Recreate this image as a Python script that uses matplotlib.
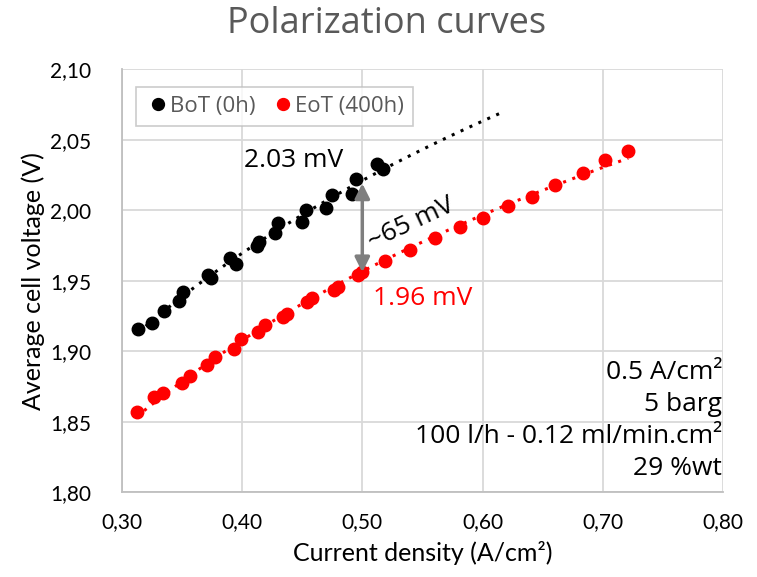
import numpy as np
import matplotlib
matplotlib.use("Agg")
import matplotlib.pyplot as plt

# BoT (0h)
bot_j = [0.3136, 0.3252, 0.3347, 0.3474, 0.3510, 0.3718, 0.3738, 0.3898, 0.3948,
         0.4121, 0.4142, 0.4273, 0.4300, 0.4495, 0.4528, 0.4697, 0.4745, 0.4916,
         0.4947, 0.5119, 0.5174]
bot_v = [1.9160, 1.9200, 1.9286, 1.9355, 1.9420, 1.9540, 1.9516, 1.9662, 1.9622,
         1.9745, 1.9775, 1.9835, 1.9906, 1.9917, 2.0000, 2.0019, 2.0111, 2.0118,
         2.0218, 2.0326, 2.0289]

# EoT (400h)
eot_j = [0.3122, 0.3269, 0.3344, 0.3497, 0.3566, 0.3710, 0.3774, 0.3932, 0.3988,
         0.4134, 0.4190, 0.4342, 0.4370, 0.4537, 0.4578, 0.4764, 0.4800, 0.4966,
         0.4994, 0.5188, 0.5396, 0.5604, 0.5812, 0.6001, 0.6214, 0.6408, 0.6602,
         0.6833, 0.7018, 0.7212]
eot_v = [1.8570, 1.8672, 1.8704, 1.8771, 1.8825, 1.8901, 1.8960, 1.9019, 1.9083,
         1.9137, 1.9184, 1.9243, 1.9267, 1.9350, 1.9374, 1.9433, 1.9456, 1.9539,
         1.9562, 1.9642, 1.9721, 1.9804, 1.9882, 1.9948, 2.0030, 2.0094, 2.0177,
         2.0265, 2.0355, 2.0421]

x_ticks = [0.30, 0.40, 0.50, 0.60, 0.70, 0.80]
y_ticks = [1.80, 1.85, 1.90, 1.95, 2.00, 2.05, 2.10]
condiciones = ["0.5 A/cm²", "5 barg", "100 l/h - 0.12 ml/min.cm²", "29 %wt"]

plt.rcParams['font.family'] = ['Open Sans', 'DejaVu Sans']

fig = plt.figure(figsize=(7.57, 5.77), dpi=100)
ax = fig.add_axes([0.161, 0.147, 0.794, 0.733])

# lineas de tendencia logaritmicas (como en Excel)
def tendencia(j, v, j_fin):
    a, b = np.polyfit(np.log(j), v, 1)
    jj = np.linspace(min(j), j_fin, 200)
    return jj, a*np.log(jj) + b

jj, vv = tendencia(bot_j, bot_v, max(bot_j) + 0.1)
ax.plot(jj, vv, color='black', linestyle=(0, (1, 2.2)), linewidth=2.2, zorder=2)
jj, vv = tendencia(eot_j, eot_v, max(eot_j))
ax.plot(jj, vv, color='red', linestyle=(0, (1, 2.2)), linewidth=2.2, zorder=2)

ax.plot(bot_j, bot_v, 'o', color='black', markersize=9, label='BoT (0h)', zorder=3)
ax.plot(eot_j, eot_v, 'o', color='red', markersize=9, label='EoT (400h)', zorder=3)

ax.set_xlim(0.30, 0.80)
ax.set_ylim(1.80, 2.10)
ax.set_xticks(x_ticks)
ax.set_yticks(y_ticks)
ax.set_xticklabels([f"{t:.2f}".replace('.', ',') for t in x_ticks],
                   fontsize=15, family='Lato')
ax.set_yticklabels([f"{t:.2f}".replace('.', ',') for t in y_ticks],
                   fontsize=15, family='Lato')
ax.tick_params(axis='y', length=0, pad=22)
ax.tick_params(axis='x', length=0, pad=14)
ax.grid(True, color='#d9d9d9', linewidth=1.3)
ax.set_axisbelow(True)
for s in ['top', 'right']:
    ax.spines[s].set_visible(False)
for s in ['left', 'bottom']:
    ax.spines[s].set_color('#bfbfbf')
    ax.spines[s].set_linewidth(1.3)

ax.set_xlabel("Current density (A/cm²)", fontsize=18, family='Lato', labelpad=7)
ax.set_ylabel("Average cell voltage (V)", fontsize=18, family='Lato', labelpad=4)
fig.text(0.51, 0.958, "Polarization curves", ha='center', va='center',
         fontsize=26, color='#595959')

leg = ax.legend(loc='upper left', ncol=2, fontsize=16, handletextpad=0.0,
                columnspacing=0.7, borderpad=0.42, fancybox=False,
                bbox_to_anchor=(0.005, 0.985), handlelength=1.1, markerscale=0.95)
leg.get_frame().set_edgecolor('#bfbfbf')
leg.get_frame().set_linewidth(1.2)
for t in leg.get_texts():
    t.set_color('#595959')

# anotaciones
ax.annotate('', xy=(0.50, 1.956), xytext=(0.50, 2.019),
            arrowprops=dict(arrowstyle='<|-|>', color='#7f7f7f', lw=2.5,
                            mutation_scale=22, shrinkA=0, shrinkB=0))
ax.text(0.4845, 2.0355, "2.03 mV", ha='right', va='center', fontsize=19)
ax.text(0.5085, 1.9376, "1.96 mV", ha='left', va='center', fontsize=19, color='red')
ax.text(0.541, 1.9905, "~65 mV", ha='center', va='center', fontsize=19, rotation=25)

y0 = 1.885
for i, c in enumerate(condiciones):
    ax.text(0.7995, y0 - i*0.0227, c, ha='right', va='center', fontsize=19)

fig.savefig("out.png", dpi=100)
